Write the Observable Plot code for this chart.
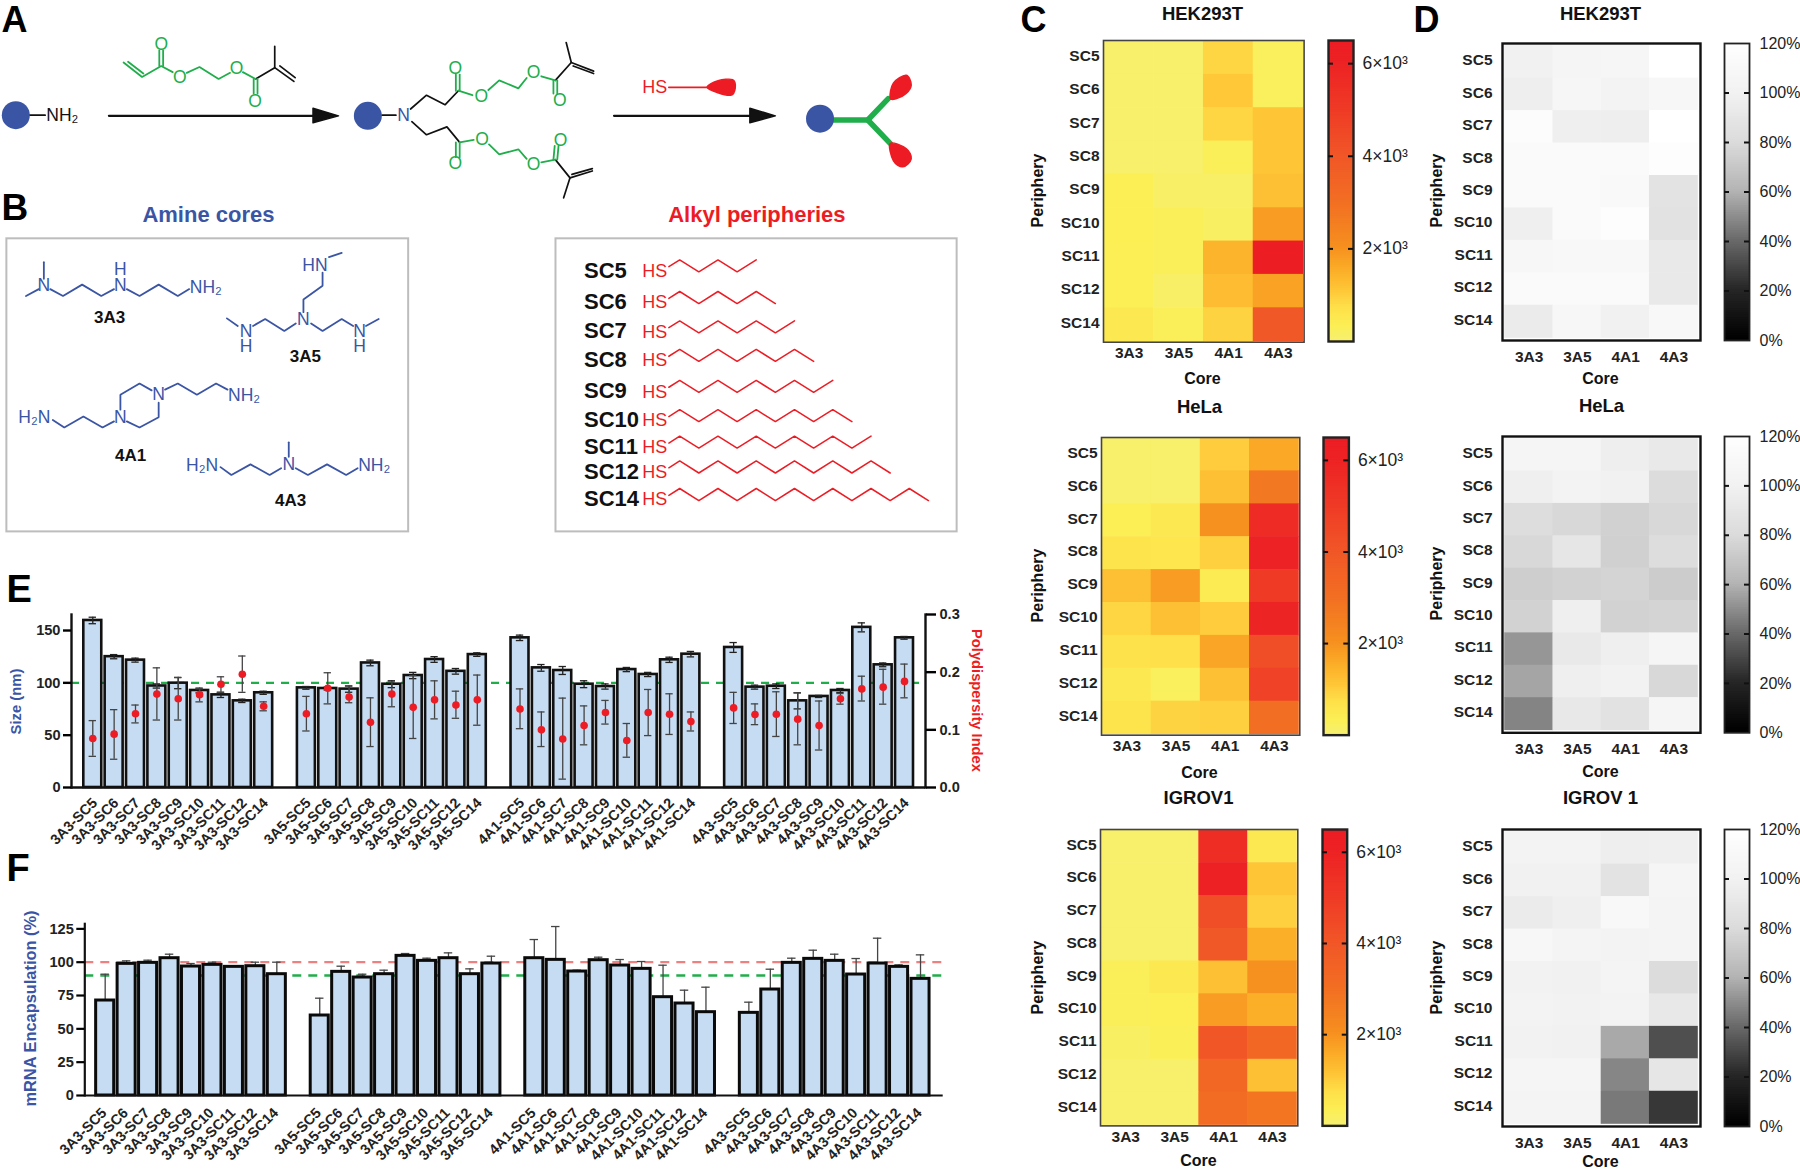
<!DOCTYPE html>
<html><head><meta charset="utf-8">
<script src="https://cdn.jsdelivr.net/npm/d3@7"></script>
<script src="https://cdn.jsdelivr.net/npm/@observablehq/plot@0.6"></script>
<style>
html,body{margin:0;padding:0;background:#fff}
#page{position:relative;width:1800px;height:1171px;overflow:hidden}
#page svg{position:absolute;overflow:visible}
</style></head><body><div id="page"></div>
<script>
// ---------- chart data ----------
const cores = ["3A3","3A5","4A1","4A3"];
const peripheries = ["SC5","SC6","SC7","SC8","SC9","SC10","SC11","SC12","SC14"];
const sizeMean = [159.6,125,121.7,97,99.7,92.7,88.5,82.8,90.5, 95.2,94.6,94,119,98.7,107,122.3,111,127, 143,114.3,111.8,98.7,96.5,112.7,108,122,127.4, 133.8,95.9,96.8,82.8,87,92.7,153,117.2,143];
const sizeHi   = [162.7,127,123.6,99,105,95,91,84.4,92, 96.5,96,97,121.7,102,110,125,113.7,128.7, 145.6,117.5,115.6,102,99,114.7,110,124.5,130, 138.5,97.8,99,90.5,88,94.6,157.3,119,144.3];
const pdiMean  = [.085,.0925,.128,.162,.154,.161,.179,.1965,.141, .128,.172,.157,.113,.162,.139,.152,.143,.152, .136,.1,.084,.1075,.13,.0815,.13,.127,.1145, .138,.1265,.127,.1185,.1075,.154,.171,.174,.184];
const pdiHi    = [.116,.135,.143,.2075,.191,.171,.192,.228,.1485, .158,.199,.176,.1555,.183,.194,.185,.167,.195, .171,.131,.155,.1415,.151,.111,.17,.1625,.131, .165,.145,.166,.164,.15,.163,.193,.205,.214];
const pdiLo    = [.054,.049,.112,.117,.117,.1485,.165,.165,.133, .098,.145,.147,.071,.14,.085,.119,.12,.108, .102,.071,.0145,.074,.11,.0525,.09,.092,.098, .111,.109,.0885,.074,.065,.1445,.15,.1445,.1555];
const encMean  = [71.25,98.75,99.5,103,96.75,98,96.5,97,91, 60,92.75,88.5,91,104.75,101,103,91,99, 103,101.75,93,101.5,97.5,95,73.75,69,62.5, 62,79.5,99.5,102.5,101,90.75,99,96.5,87.5];
const encHi    = [91,101,101.5,106,99,100,97,100,100, 73,97,91,94,106.5,103,107,95,104.5, 117,126.75,94,103.75,102,100.5,97.75,79,81.25, 70,94.75,103,109,106,102.75,118,98,105.5];

const mrnaHek = [[50,50,850,200],[50,50,1050,200],[50,50,850,1100],[50,50,250,1100],[300,100,100,1200],[300,250,150,1800],[300,250,1400,6400],[300,100,1250,1700],[450,250,900,3900]];
const mrnaHela = [[50,50,1000,1600],[50,50,1200,2700],[300,450,2000,5600],[600,550,950,6000],[1200,1800,400,5000],[850,1200,1000,5900],[650,700,1650,4300],[450,200,1200,4700],[600,900,950,3000]];
const mrnaIgrov = [[50,50,5500,450],[50,50,6200,1100],[50,50,4300,950],[50,50,3900,1500],[250,450,1200,2000],[250,300,1800,1500],[150,280,4000,3300],[50,50,3300,1200],[50,50,3100,2800]];
const viaHek = [[99,105,106,120],[96,106,102,108],[115,97,96,120],[112,112,112,117],[112,112,111,86],[97,112,117,85],[108,109,109,92],[112,112,112,92],[94,108,99,109]];
const viaHela = [[105,105,96,92],[97,102,99,80],[81,78,74.5,78],[78,89,74,81],[73,75,76,72],[75,97,75,76],[52,92,97,105],[56,97,100,78],[47,91,85,105]];
const viaIgrov = [[102,102,96,97],[99,99,86,105],[94,97,109,103],[108,103,102,103],[100,99,103,80],[102,100,102,91],[100,99,57,32],[105,105,47.5,89],[103,103,44,25]];

const heatDomain = [0,300,700,1100,1500,2000,3000,4000,5000,6000,6500];
const heatRange = ["#f7ef6e","#fbef55","#fee04a","#fec537","#fbae28","#f6901f","#f26e23","#f15627","#ef3a26","#ed2224","#ed1c24"];
const grayDomain = [0,20,40,60,80,100,120];
const grayRange = ["#000000","#262626","#6a6a6a","#b4b4b4","#dcdcdc","#f2f2f2","#ffffff"];
const heatTicks = [{v:2000,l:"2×10³"},{v:4000,l:"4×10³"},{v:6000,l:"6×10³"}];
const grayTicks = [{v:0,l:"0%"},{v:20,l:"20%"},{v:40,l:"40%"},{v:60,l:"60%"},{v:80,l:"80%"},{v:100,l:"100%"},{v:120,l:"120%"}];

// ---------- palette ----------
const FONT = "'Liberation Sans', Arial, sans-serif";
const BLUE="#3b55a5", RED="#ed1c24", GREEN="#20ae4b", BAR="#c6dcf2";
const page = document.getElementById("page");
function place(svg,left,top){svg.style.left=left+"px";svg.style.top=top+"px";page.appendChild(svg);}
const css = (size,weight="bold")=>({fontFamily:FONT,fontSize:size+"px",fontWeight:weight,background:"transparent",overflow:"visible"});

// ---------- schematic (panels A, B): drawn in its own sketch scale ----------
const blackBonds = [
 [[45,333],[70,333]],[[400,228],[430,195],[430,133]],[[430,195],[460,235]],[[438,190],[462,224]],
 [[598,333],[620,333]],[[643,315],[668,275],[697,303],[718,262]],[[645,352],[668,390],[700,367],[720,412]],
 [[870,232],[895,180],[887,122]],[[895,180],[930,205]],[[898,190],[930,212]],
 [[870,462],[893,515],[883,573]],[[893,515],[928,495]],[[896,505],[928,488]]
];
const greenBonds = [
 [[193,180],[222,222],[252,190],[270,208]],[[200,178],[224,212]],[[249,190],[249,145]],[[255,190],[255,145]],
 [[292,210],[312,193],[342,228],[360,210]],[[380,208],[400,228]],[[397,228],[397,270]],[[403,228],[403,270]],
 [[718,262],[740,275]],[[714,262],[714,215]],[[720,262],[720,215]],[[765,260],[782,232],[812,255],[825,225]],
 [[848,220],[870,232]],[[867,232],[867,270]],[[873,232],[873,270]],
 [[720,412],[742,405]],[[714,412],[714,455]],[[720,412],[720,455]],[[766,418],[782,447],[812,432],[825,460]],
 [[848,470],[870,462]],[[867,462],[869,422]],[[873,462],[875,422]]
];
const arrowShafts = [[[170,335],[495,335]],[[962,335],[1180,335]]];
const arrowHeads = [[[490,313],[530,335],[490,355],[490,313]],[[1175,313],[1215,335],[1175,355],[1175,313]]];
const redBlobs = [
 [[1108,252],[1125,233],[1148,230],[1152,255],[1145,275],[1125,268]],
 [[1395,283],[1400,240],[1420,217],[1428,245],[1420,270],[1405,285]],
 [[1395,415],[1420,430],[1428,460],[1415,483],[1400,465]]
];
const thickGreen = [[[1307,347],[1360,347],[1392,285]],[[1360,347],[1395,415]]];
const amineBonds = [
 [[68,760],[68,808]],[[40,858],[60,838]],[[78,838],[98,858],[128,825],[158,858],[178,838]],[[198,838],[218,858],[248,825],[278,858],[296,838]],
 [[515,745],[535,733]],[[505,790],[505,828],[475,868],[475,905]],[[463,938],[445,960],[415,925],[396,945]],[[372,945],[355,923]],[[487,938],[505,960],[535,925],[553,945]],[[573,945],[593,925]],
 [[82,1218],[100,1240],[130,1208],[160,1240],[178,1222]],[[188,1188],[188,1145],[218,1112],[237,1132]],[[248,1168],[248,1210],[218,1240],[198,1222]],[[258,1130],[278,1112],[308,1145],[338,1112],[356,1130]],
 [[345,1355],[362,1378],[392,1347],[422,1378],[440,1358]],[[452,1283],[452,1325]],[[463,1358],[482,1378],[512,1347],[542,1378],[560,1358]]
];
const amineAtoms = [["N",68,828],["N",188,828],["H",188,782],["NH₂",322,832],["HN",493,768],["N",475,925],["N",385,960],["H",385,1003],["N",563,960],["H",563,1003],["H₂N",53,1210],["N",188,1210],["N",248,1145],["NH₂",382,1148],["H₂N",316,1350],["N",452,1347],["NH₂",586,1350],["N",632,333]];
const greenAtoms = [["O",252,128],["O",281,222],["O",370,197],["O",399,293],["O",713,197],["O",754,277],["O",836,210],["O",877,290],["O",713,473],["O",755,402],["O",836,475],["O",878,405]];
const coreNames = [["3A3",171,922],["3A5",478,1035],["4A1",204,1320],["4A3",455,1452]];
const alkylRows = [[5,753,787],[6,845,877],[7,930,962],[8,1013,1046],[9,1103,1137],[10,1188,1220],[11,1265,1297],[12,1337,1370],[14,1417,1448]];
const circles = [[24,333],[576,335],[1285,343]];
const boxes = [[10,692,640,1543],[871,692,1500,1543]];

const zigzag = alkylRows.map(([n,top])=>{
  const pts=[[1048,top+20]];
  for(let i=0;i<n;i++) pts.push([1065+i*30,i%2?top+35:top]);
  return pts;
});
const flat = (lines)=>lines.flatMap((pts,i)=>pts.map(([x,y])=>({x,y,i})));
const atomRows = (list)=>list.map(([t,x,y])=>({t,x,y}));
const lineMark = (lines,stroke,strokeWidth)=>Plot.line(flat(lines),{x:"x",y:"y",z:"i",stroke:()=>stroke,strokeWidth,strokeLinejoin:"miter"});
const sketch = Plot.plot({
  width:1000,height:540,margin:0,style:{...css(17,"normal"),background:"#fff"},
  x:{domain:[0,1568],range:[0,1000],axis:null},y:{domain:[0,1568],range:[0,540],axis:null},
  marks:[
    Plot.rect(boxes,{x1:d=>d[0],y1:d=>d[1],x2:d=>d[2],y2:d=>d[3],stroke:"#bdbdbd",strokeWidth:2,fill:"none"}),
    lineMark(blackBonds,"#111",1.7),lineMark(greenBonds,GREEN,1.8),lineMark(arrowShafts,"#111",2.2),
    Plot.line(flat(arrowHeads),{x:"x",y:"y",z:"i",fill:"#111",stroke:"#111"}),
    lineMark(amineBonds,BLUE,1.8),lineMark(zigzag,RED,1.5),
    lineMark([[[1048,252],[1110,252]]],RED,1.8),lineMark(thickGreen,GREEN,5.5),
    Plot.line(flat(redBlobs),{x:"x",y:"y",z:"i",fill:RED,stroke:RED,curve:"cardinal-closed"}),
    Plot.dot(circles,{x:d=>d[0],y:d=>d[1],r:14,fill:BLUE}),
    Plot.text(atomRows(amineAtoms),{x:"x",y:"y",text:"t",fill:BLUE,fontSize:17.5}),
    Plot.text(atomRows(greenAtoms),{x:"x",y:"y",text:"t",fill:GREEN,fontSize:17.5}),
    Plot.text([{t:"NH₂",x:97,y:335}],{x:"x",y:"y",text:"t",fill:"#111",fontSize:17.5}),
    Plot.text(alkylRows.map(r=>({t:"HS",x:1026,y:r[2]})).concat([{t:"HS",x:1026,y:253}]),{x:"x",y:"y",text:"t",fill:RED,fontSize:18}),
    Plot.text(atomRows(coreNames),{x:"x",y:"y",text:"t",fontSize:17,fontWeight:"bold",fill:"#111"}),
    Plot.text(alkylRows.map((r,i)=>({t:peripheries[i],y:r[2]-2})),{x:()=>915,y:"y",text:"t",textAnchor:"start",fontSize:22,fontWeight:"bold",fill:"#111"}),
    Plot.text([{t:"Amine cores",x:326,f:BLUE},{t:"Alkyl peripheries",x:1186,f:RED}],{x:"x",y:()=>622,text:"t",fill:"f",fontSize:22,fontWeight:"bold"})
  ]
});
place(sketch,0,0);

// ---------- shared labels ----------
const freeText = [
 {t:"A",x:1,y:20,s:36},{t:"B",x:1,y:208,s:37},{t:"C",x:1020,y:20,s:36},{t:"D",x:1413,y:20,s:36},{t:"E",x:6,y:589,s:38},{t:"F",x:6,y:868,s:38},
];
const centered = [
 {t:"HEK293T",x:1202,y:14,s:18.5},{t:"HeLa",x:1199,y:407,s:18.5},{t:"IGROV1",x:1198,y:798,s:18.5},
 {t:"HEK293T",x:1600,y:14,s:18.5},{t:"HeLa",x:1601,y:406,s:18.5},{t:"IGROV 1",x:1600,y:798,s:18.5},
 {t:"Core",x:1202,y:378,s:16},{t:"Core",x:1199,y:772,s:16},{t:"Core",x:1198,y:1160,s:16},
 {t:"Core",x:1600,y:378,s:16},{t:"Core",x:1600,y:771,s:16},{t:"Core",x:1600,y:1161,s:16},
 {t:"Periphery",x:1037,y:190,s:16,r:-90},{t:"Periphery",x:1037,y:585,s:16,r:-90},{t:"Periphery",x:1037,y:977,s:16,r:-90},
 {t:"Periphery",x:1436,y:190,s:16,r:-90},{t:"Periphery",x:1436,y:583,s:16,r:-90},{t:"Periphery",x:1436,y:977,s:16,r:-90},
 {t:"Size (nm)",x:16,y:701,s:14.8,r:-90,f:BLUE},{t:"Polydispersity Index",x:976,y:700,s:14.7,r:90,f:RED},
 {t:"mRNA Encapsulation (%)",x:30,y:1008,s:16.4,r:-90,f:BLUE}
];
const textPlot = Plot.plot({
  width:1800,height:1171,margin:0,style:css(16),
  x:{domain:[0,1800],range:[0,1800],axis:null},y:{domain:[0,1171],range:[0,1171],axis:null},
  marks:[
    Plot.text(freeText,{x:"x",y:"y",text:"t",fontSize:"s",textAnchor:"start",fill:"#000",fontWeight:"bold"}),
    Plot.text(centered,{x:"x",y:"y",text:"t",fontSize:"s",rotate:d=>d.r??0,fill:d=>d.f??"#111",fontWeight:"bold"})
  ]
});
place(textPlot,0,0);

// ---------- bar panels E, F ----------
const labels = cores.flatMap(c=>peripheries.map(p=>`${c}-${p}`));
const bandDomain = cores.flatMap((c,i)=>[...peripheries.map(p=>`${c}-${p}`),...(i<3?[`gap${i}`]:[])]);
const sizeRows = labels.map((label,i)=>({label,v:sizeMean[i],hi:sizeHi[i],lo:2*sizeMean[i]-sizeHi[i]}));
const pdiRows = labels.map((label,i)=>({label,v:pdiMean[i],hi:pdiHi[i],lo:pdiLo[i]}));
const encRows = labels.map((label,i)=>({label,v:encMean[i],hi:encHi[i]}));

const errBars = (rows,lo,hi,col,w=1.3,inset=7)=>[
  Plot.ruleX(rows,{x:"label",y1:lo,y2:hi,stroke:col,strokeWidth:w}),
  Plot.tickY(rows,{x:"label",y:hi,stroke:col,strokeWidth:w,insetLeft:inset,insetRight:inset}),
  ...(lo==="v"?[]:[Plot.tickY(rows,{x:"label",y:lo,stroke:col,strokeWidth:w,insetLeft:inset,insetRight:inset})])
];
const bandScale = (r,extra={})=>({type:"band",domain:bandDomain,range:r,padding:0,round:false,label:null,...extra});
const xAxisLabels = (pad,dx)=>Plot.axisX({ticks:labels,tickRotate:-45,tickSize:0,tickPadding:pad,dx,label:null,fontSize:14.4,fill:"#222"});

const ePlot = Plot.plot({
  width:1000,height:300,marginLeft:71,marginRight:75,marginTop:24,marginBottom:103,style:css(14.6),
  x:bandScale([81.6,914.7]),y:{domain:[0,165.3],label:null},
  marks:[
    Plot.ruleY([100],{stroke:GREEN,strokeWidth:2.4,strokeDasharray:"8,7"}),
    Plot.barY(sizeRows,{x:"label",y:"v",fill:BAR,stroke:"#111",strokeWidth:2.6,insetLeft:1.7,insetRight:1.7}),
    ...errBars(sizeRows,"lo","hi","#222",1.3,7),
    Plot.ruleY([0],{stroke:"#111",strokeWidth:2.4}),
    Plot.frame({anchor:"left",stroke:"#111",strokeWidth:2.4}),
    Plot.axisY({ticks:[0,50,100,150],tickSize:8,tickPadding:3,strokeWidth:2.4,label:null,fill:"#222"}),
    xAxisLabels(13,2)
  ]
});
place(ePlot,0,590);

const pPlot = Plot.plot({
  width:1000,height:300,marginLeft:71,marginRight:75,marginTop:24,marginBottom:103,style:css(14.6),
  x:bandScale([81.6,914.7],{axis:null}),y:{domain:[0,0.3],label:null,axis:null},
  marks:[
    ...errBars(pdiRows,"lo","hi","#444",1.3,7),
    Plot.dot(pdiRows,{x:"label",y:"v",r:3.8,fill:RED}),
    Plot.frame({anchor:"right",stroke:"#111",strokeWidth:2.4}),
    Plot.axisY({anchor:"right",ticks:[0,.1,.2,.3],tickFormat:".1f",tickSize:10,tickPadding:4,strokeWidth:2.4,label:null,fill:"#222"})
  ]
});
place(pPlot,0,590);

const fPlot = Plot.plot({
  width:1000,height:275,marginLeft:84.3,marginRight:57.3,marginTop:23.3,marginBottom:80,style:css(14.6),
  x:bandScale([93.95,930.75]),y:{domain:[0,128.8],label:null},
  marks:[
    Plot.ruleY([100],{stroke:"#f08080",strokeWidth:2.2,strokeDasharray:"9,7"}),
    Plot.ruleY([90],{stroke:GREEN,strokeWidth:2.4,strokeDasharray:"9,7"}),
    ...errBars(encRows,"v","hi","#444",1.3,6.5),
    Plot.barY(encRows,{x:"label",y:"v",fill:BAR,stroke:"#0a0a0a",strokeWidth:3,insetLeft:1.7,insetRight:1.7}),
    Plot.ruleY([0],{stroke:"#111",strokeWidth:2.2}),
    Plot.frame({anchor:"left",stroke:"#111",strokeWidth:2.2}),
    Plot.axisY({ticks:[0,25,50,75,100,125],tickSize:8,tickPadding:3,strokeWidth:2.2,label:null,fill:"#222"}),
    xAxisLabels(15,-1)
  ]
});
place(fPlot,0,900);

// ---------- heat maps C, D ----------
const toRows = (m)=>m.flatMap((row,i)=>row.map((v,j)=>({core:cores[j],per:peripheries[i],v})));
function heat({l,r,t,b,m,domain,range,pad,inner,frameW,frameC}){
  const ml=70,mr=4,mt=4,mb=30;
  place(Plot.plot({
    width:(r-l)+ml+mr,height:(b-t)+mt+mb,marginLeft:ml,marginRight:mr,marginTop:mt,marginBottom:mb,style:css(15.5),
    x:{type:"band",domain:cores,padding:0,round:false,label:null,range:[ml+inner,ml+(r-l)-inner]},
    y:{type:"band",domain:peripheries,padding:0,round:false,label:null,range:[mt+inner,mt+(b-t)-inner]},
    color:{type:"linear",domain,range,clamp:true},
    marks:[
      Plot.cell(toRows(m),{x:"core",y:"per",fill:"v",inset:-0.3}),
      Plot.frame({stroke:frameC,strokeWidth:frameW}),
      Plot.axisX({tickSize:0,tickPadding:pad[0],label:null,fill:"#222"}),
      Plot.axisY({tickSize:0,tickPadding:pad[1],dy:-2,label:null,fill:"#222"})
    ]
  }),l-ml,t-mt);
}
function cbar({l,r,t,b,domain,range,ticks,max,labelW,frameW,labelSize}){
  const mr=70,ml=3,mv=6,n=130;
  const steps=d3.range(n).map(i=>({a:max*i/n,b:Math.min(max,max*(i+1)/n+max*0.004)}));
  place(Plot.plot({
    width:(r-l)+ml+mr,height:(b-t)+2*mv,marginLeft:ml,marginRight:mr,marginTop:mv,marginBottom:mv,style:css(16,"normal"),
    x:{domain:[0,1],axis:null},y:{domain:[0,max],axis:null},
    color:{type:"linear",domain,range,clamp:true},
    marks:[
      Plot.rect(steps,{x1:()=>0,x2:()=>1,y1:"a",y2:"b",fill:"a"}),
      Plot.frame({stroke:"#222",strokeWidth:frameW}),
      Plot.ruleY(ticks.filter(d=>d.v>0&&d.v<max),{y:"v",x1:()=>0,x2:()=>0.2,stroke:"#111",strokeWidth:2}),
      Plot.ruleY(ticks.filter(d=>d.v>0&&d.v<max),{y:"v",x1:()=>0.8,x2:()=>1,stroke:"#111",strokeWidth:2}),
      Plot.text(ticks,{x:()=>1,y:"v",text:"l",dx:labelW,textAnchor:"start",fill:"#222",fontSize:labelSize})
    ]
  }),l-ml,t-mv);
}
const cPanels=[
 {m:mrnaHek,l:1102.7,r:1303.3,t:40,b:341.7,pad:[5,4],bl:1328,br:1353,bt:40,bb:341},
 {m:mrnaHela,l:1100.7,r:1299,t:437.3,b:735,pad:[5,4],bl:1323.3,br:1348.7,bt:437.3,bb:735},
 {m:mrnaIgrov,l:1100,r:1297.3,t:829.3,b:1125.7,pad:[5,4],bl:1322.3,br:1347,bt:829.3,bb:1125.7}
];
cPanels.forEach(p=>{
  heat({...p,domain:heatDomain,range:heatRange,inner:0.8,frameW:1.6,frameC:"#444"});
  cbar({l:p.bl,r:p.br,t:p.bt,b:p.bb,domain:heatDomain,range:heatRange,ticks:heatTicks,max:6500,labelW:9,frameW:2.4,labelSize:17.5});
});
const dPanels=[
 {m:viaHek,t:43,b:340,pad:[10,10]},
 {m:viaHela,t:436,b:732.3,pad:[10,10]},
 {m:viaIgrov,t:829,b:1126,pad:[10,10]}
];
dPanels.forEach(p=>{
  heat({...p,l:1502.3,r:1700.3,domain:grayDomain,range:grayRange,inner:2.5,frameW:2.4,frameC:"#111"});
  cbar({l:1724.3,r:1749.3,t:p.t,b:p.b,domain:grayDomain,range:grayRange,ticks:grayTicks,max:120,labelW:10,frameW:1.8,labelSize:16});
});
</script></body></html>
